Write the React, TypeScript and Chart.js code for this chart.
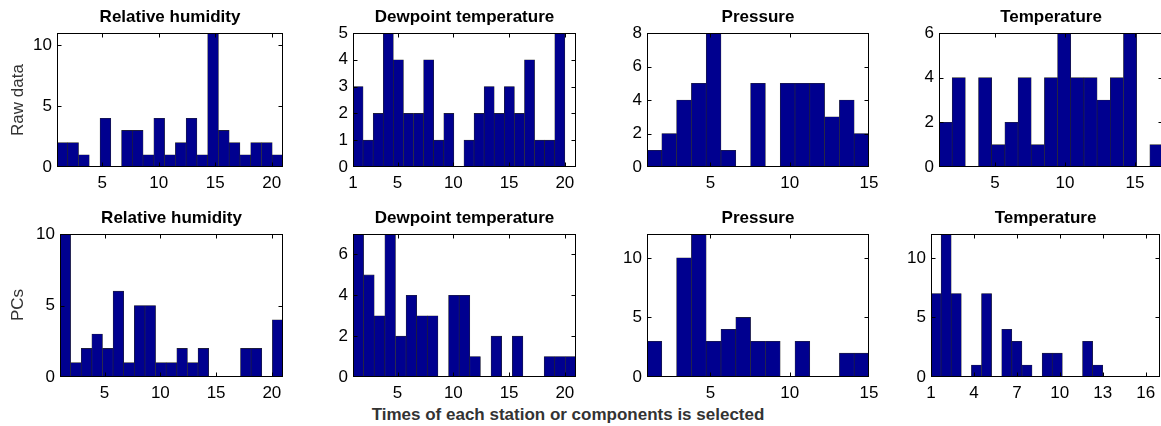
import React, { useEffect, useRef } from 'react';
import { Chart, registerables } from 'chart.js';
Chart.register(...registerables);

const FONT = '"Liberation Sans", Arial, Helvetica, sans-serif';
const BAR_COLOR = '#00008F';

// ---- Histogram counts ----
const rhRawCounts = [2, 2, 1, 0, 4, 0, 3, 3, 1, 4, 1, 2, 4, 1, 11, 3, 2, 1, 2, 2, 1];
const dewRawCounts = [3, 1, 2, 5, 4, 2, 2, 4, 1, 2, 0, 1, 2, 3, 2, 3, 2, 4, 1, 1, 5];
const presRawCounts = [1, 2, 4, 5, 8, 1, 0, 5, 0, 5, 5, 5, 3, 4, 2];
const tempRawCounts = [2, 4, 0, 4, 1, 2, 4, 1, 4, 6, 4, 4, 3, 4, 6, 0, 1];
const rhPcCounts = [10, 1, 2, 3, 2, 6, 1, 5, 5, 1, 1, 2, 1, 2, 0, 0, 0, 2, 2, 0, 4];
const dewPcCounts = [7, 5, 3, 7, 2, 4, 3, 3, 0, 4, 4, 1, 0, 2, 0, 2, 0, 0, 1, 1, 1];
const presPcCounts = [3, 0, 10, 12, 3, 4, 5, 3, 3, 0, 3, 0, 0, 2, 2];
const tempPcCounts = [7, 12, 7, 0, 1, 7, 0, 4, 3, 1, 0, 2, 2, 0, 0, 3, 1];

// ---- Histogram bin ranges [lowest edge, highest edge] ----
const rhRawBins = [1, 21];
const dewRawBins = [1, 20];
const presRawBins = [1, 15];
const tempRawBins = [1, 17];
const rhPcBins = [1, 21];
const dewPcBins = [1, 21];
const presPcBins = [1, 15];
const tempPcBins = [1, 13];

// ---- Axis limits ----
const rhXLim = [1, 21];
const dewXLim = [1, 21];
const presXLim = [1, 15];
const tempXLim = [1, 17];

// ---- Tick labels ----
const xTicksTwenty = [5, 10, 15, 20];
const xTicksDewRaw = [1, 5, 10, 15, 20];
const xTicksFifteen = [5, 10, 15];
const xTicksTempPc = [1, 4, 7, 10, 13, 16];
const yTicksFives = [0, 5, 10];
const yTicksOnes = [0, 1, 2, 3, 4, 5];
const yTicksTwosTo8 = [0, 2, 4, 6, 8];
const yTicksTwosTo6 = [0, 2, 4, 6];

const titles = ['Relative humidity', 'Dewpoint temperature', 'Pressure', 'Temperature'];
const rowLabels = ['Raw data', 'PCs'];
const xLabel = 'Times of each station or components is selected';

// margins around each plot area inside its canvas
const ML = 44, MT = 30, MR = 16, MB = 28;

type Panel = {
  title: string; counts: number[]; bins: number[]; xlim: number[]; xticks: number[];
  ymax: number; yticks: number[]; rect: number[]; // left, top, right, bottom of plot area
};

const panels: Panel[] = [
  { title: titles[0], counts: rhRawCounts, bins: rhRawBins, xlim: rhXLim, xticks: xTicksTwenty, ymax: 11, yticks: yTicksFives, rect: [57, 33, 283, 167] },
  { title: titles[1], counts: dewRawCounts, bins: dewRawBins, xlim: dewXLim, xticks: xTicksDewRaw, ymax: 5, yticks: yTicksOnes, rect: [353, 33, 576, 167] },
  { title: titles[2], counts: presRawCounts, bins: presRawBins, xlim: presXLim, xticks: xTicksFifteen, ymax: 8, yticks: yTicksTwosTo8, rect: [647, 33, 869, 167] },
  { title: titles[3], counts: tempRawCounts, bins: tempRawBins, xlim: tempXLim, xticks: xTicksFifteen, ymax: 6, yticks: yTicksTwosTo6, rect: [939, 33, 1163, 167] },
  { title: titles[0], counts: rhPcCounts, bins: rhPcBins, xlim: rhXLim, xticks: xTicksTwenty, ymax: 10, yticks: yTicksFives, rect: [60, 234, 283, 377] },
  { title: titles[1], counts: dewPcCounts, bins: dewPcBins, xlim: dewXLim, xticks: xTicksTwenty, ymax: 7, yticks: yTicksTwosTo6, rect: [353, 234, 576, 377] },
  { title: titles[2], counts: presPcCounts, bins: presPcBins, xlim: presXLim, xticks: xTicksFifteen, ymax: 12, yticks: yTicksFives, rect: [647, 234, 869, 377] },
  { title: titles[3], counts: tempPcCounts, bins: tempPcBins, xlim: tempXLim, xticks: xTicksTempPc, ymax: 12, yticks: yTicksFives, rect: [931, 234, 1160, 377] },
];

const boxPlugin = {
  id: 'matlabBox',
  afterDraw(chart: any) {
    const { ctx, chartArea } = chart;
    const { left, top, right, bottom } = chartArea;
    const xs = chart.scales.x, ys = chart.scales.y;
    const L = Math.round(left) + 0.5, R = Math.round(right) - 0.5;
    const T = Math.round(top) + 0.5, B = Math.round(bottom) - 0.5;
    ctx.save();
    ctx.strokeStyle = '#000';
    ctx.lineWidth = 1;
    ctx.beginPath();
    const tl = 4;
    const xt: number[] = chart.options.plugins.matlabBox.xticks;
    const yt: number[] = chart.options.plugins.matlabBox.yticks;
    xt.forEach((v) => {
      if (v <= xs.min || v >= xs.max) return;
      const p = Math.round(xs.getPixelForValue(v)) + 0.5;
      ctx.moveTo(p, B); ctx.lineTo(p, B - tl);
      ctx.moveTo(p, T); ctx.lineTo(p, T + tl);
    });
    yt.forEach((v) => {
      if (v <= ys.min || v >= ys.max) return;
      const p = Math.round(ys.getPixelForValue(v)) + 0.5;
      ctx.moveTo(L, p); ctx.lineTo(L + tl, p);
      ctx.moveTo(R, p); ctx.lineTo(R - tl, p);
    });
    ctx.stroke();
    ctx.strokeRect(L, T, R - L, B - T);
    // title
    ctx.fillStyle = '#000';
    ctx.font = `bold 17px ${FONT}`;
    ctx.textAlign = 'center';
    ctx.textBaseline = 'alphabetic';
    ctx.fillText(chart.options.plugins.matlabBox.title, (left + right) / 2, top - 11);
    ctx.restore();
  },
};

function PanelChart({ p }: { p: Panel }) {
  const ref = useRef<HTMLCanvasElement | null>(null);
  const [l, t, r, b] = p.rect;
  const cw = r - l + ML + MR;
  const ch = b - t + MT + MB;
  useEffect(() => {
    if (!ref.current) return;
    const n = p.counts.length;
    const w = (p.bins[1] - p.bins[0]) / n;
    const data = p.counts.map((c, i) => ({ x: p.bins[0] + (i + 0.5) * w, y: c }));
    const chart = new Chart(ref.current, {
      type: 'bar',
      data: {
        datasets: [{
          data,
          backgroundColor: BAR_COLOR,
          borderColor: '#262626',
          borderWidth: 0.6,
          barPercentage: 1,
          categoryPercentage: 1,
        } as any],
      },
      options: {
        animation: false,
        responsive: false,
        maintainAspectRatio: false,
        layout: { padding: { top: MT, right: MR, left: 0, bottom: 0 } },
        plugins: {
          legend: { display: false },
          tooltip: { enabled: false },
          title: { display: false },
          matlabBox: { title: p.title, xticks: p.xticks, yticks: p.yticks },
        } as any,
        scales: {
          x: {
            type: 'linear',
            min: p.xlim[0],
            max: p.xlim[1],
            offset: false,
            grid: { display: false, drawTicks: false },
            border: { display: false },
            ticks: { font: { family: FONT, size: 17 }, color: '#000', padding: 6, maxRotation: 0, autoSkip: false, callback: (v: any) => String(v) },
            afterBuildTicks: (s: any) => { s.ticks = p.xticks.map((v) => ({ value: v })); },
            afterFit: (s: any) => { s.height = MB; },
          },
          y: {
            type: 'linear',
            min: 0,
            max: p.ymax,
            grid: { display: false, drawTicks: false },
            border: { display: false },
            ticks: { font: { family: FONT, size: 17 }, color: '#000', padding: 5, autoSkip: false, callback: (v: any) => String(v) },
            afterBuildTicks: (s: any) => { s.ticks = p.yticks.map((v) => ({ value: v })); },
            afterFit: (s: any) => { s.width = ML; },
          },
        } as any,
      },
      plugins: [boxPlugin],
    });
    return () => chart.destroy();
  }, []);
  return (
    <canvas
      ref={ref}
      width={cw}
      height={ch}
      style={{ position: 'absolute', left: l - ML, top: t - MT, width: cw, height: ch }}
    />
  );
}

export default function App() {
  return (
    <div style={{ position: 'fixed', left: 0, top: 0, width: 1161, height: 426, overflow: 'hidden', background: '#fff', fontFamily: FONT }}>
      {panels.map((p, i) => <PanelChart key={i} p={p} />)}
      <div style={{ position: 'absolute', left: 18, top: 100, transform: 'translate(-50%, -50%) rotate(-90deg)', fontSize: 17, color: '#333', whiteSpace: 'nowrap' }}>{rowLabels[0]}</div>
      <div style={{ position: 'absolute', left: 18, top: 305, transform: 'translate(-50%, -50%) rotate(-90deg)', fontSize: 17, color: '#333', whiteSpace: 'nowrap' }}>{rowLabels[1]}</div>
      <div style={{ position: 'absolute', left: 568, top: 415, transform: 'translate(-50%, -50%)', fontSize: 17, fontWeight: 'bold', color: '#333', whiteSpace: 'nowrap' }}>{xLabel}</div>
    </div>
  );
}
